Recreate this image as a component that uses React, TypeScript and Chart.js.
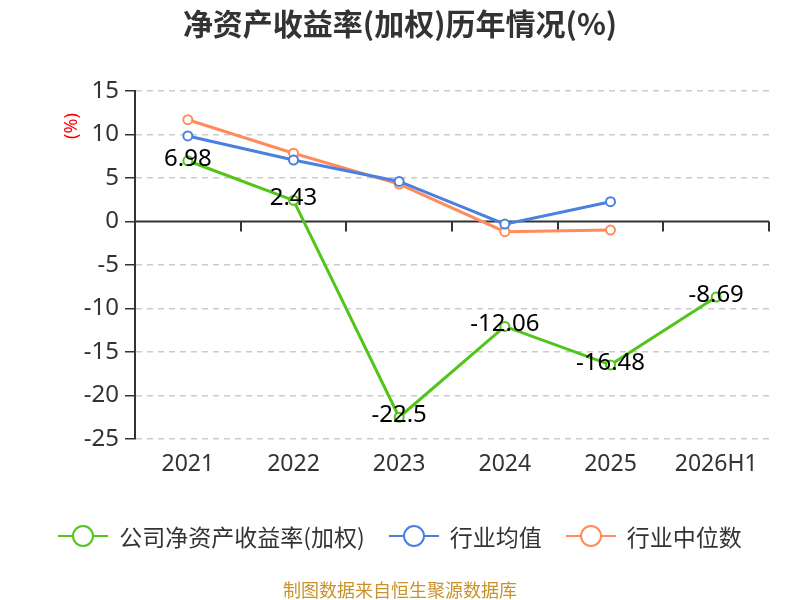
import React, { useEffect, useRef } from "react";
import Chart from "chart.js/auto";

const years = ["2021", "2022", "2023", "2024", "2025", "2026H1"];
const companyRoe = [6.98, 2.43, -22.5, -12.06, -16.48, -8.69];
const industryAvg = [9.83, 7.07, 4.6, -0.3, 2.28, null];
const industryMedian = [11.7, 7.85, 4.3, -1.17, -0.98, null];
const yTicks = [15, 10, 5, 0, -5, -10, -15, -20, -25];

const GREEN = "#52c41a";
const BLUE = "#4a80e0";
const ORANGE = "#ff8c5a";
const NUM_FONT = "'Noto Sans', 'DejaVu Sans', sans-serif";
const CJK_FONT = "'Noto Sans CJK SC', sans-serif";

// zero axis line with ticks, value labels and the red unit label
const overlayPlugin = {
	id: "overlay",
	beforeDatasetsDraw(chart: any) {
		const { ctx, chartArea } = chart;
		const y0 = chart.scales.y.getPixelForValue(0);
		const n = years.length;
		const step = (chartArea.right - chartArea.left) / n;
		ctx.save();
		ctx.strokeStyle = "#333";
		ctx.lineWidth = 2;
		ctx.beginPath();
		ctx.moveTo(chartArea.left, y0);
		ctx.lineTo(chartArea.right, y0);
		for (let i = 1; i <= n; i++) {
			const x = Math.round(chartArea.left + i * step);
			ctx.moveTo(x, y0);
			ctx.lineTo(x, y0 + 10);
		}
		ctx.stroke();
		ctx.restore();
	},
	afterDatasetsDraw(chart: any) {
		const { ctx, chartArea } = chart;
		const meta = chart.getDatasetMeta(0);
		ctx.save();
		ctx.font = `24px ${NUM_FONT}`;
		ctx.fillStyle = "#000";
		ctx.textAlign = "center";
		ctx.textBaseline = "middle";
		meta.data.forEach((pt: any, i: number) => {
			ctx.fillText(String(companyRoe[i]), pt.x, pt.y - 2);
		});
		ctx.translate(72, chartArea.top + 35);
		ctx.rotate(-Math.PI / 2);
		ctx.fillStyle = "#ff0000";
		ctx.font = `18px ${NUM_FONT}`;
		ctx.fillText("(%)", 0, 0);
		ctx.restore();
	},
};

const series = [
	{ label: "公司净资产收益率(加权)", data: companyRoe, color: GREEN },
	{ label: "行业均值", data: industryAvg, color: BLUE },
	{ label: "行业中位数", data: industryMedian, color: ORANGE },
];

const App: React.FC = () => {
	const chartRef = useRef<HTMLCanvasElement>(null);
	const chartInstance = useRef<Chart>();

	useEffect(() => {
		document.body.style.margin = "0";
		if (!chartRef.current) return;
		const ctx = chartRef.current.getContext("2d");
		if (!ctx) return;
		chartInstance.current = new Chart(ctx, {
			type: "line",
			data: {
				labels: years,
				datasets: series.map((s) => ({
					label: s.label,
					data: s.data,
					borderColor: s.color,
					backgroundColor: "#fff",
					borderWidth: 3,
					pointRadius: 4.5,
					pointBorderWidth: 2,
					pointBackgroundColor: "#fff",
					pointBorderColor: s.color,
					tension: 0,
					spanGaps: false,
				})),
			},
			options: {
				responsive: false,
				animation: false,
				layout: { padding: { top: 91, right: 31, bottom: 0, left: 0 } },
				scales: {
					x: {
						type: "category",
						offset: true,
						grid: { display: false, drawTicks: false },
						border: { display: false },
						ticks: {
							color: "#333",
							padding: 12,
							font: { size: 23, family: NUM_FONT },
						},
						afterFit: (scale: any) => {
							scale.height = 161;
						},
					},
					y: {
						min: -25,
						max: 15,
						afterBuildTicks: (scale: any) => {
							scale.ticks = yTicks.map((v) => ({ value: v }));
						},
						grid: {
							color: (c: any) => (c.tick && c.tick.value === 0 ? "rgba(0,0,0,0)" : "#ccc"),
							lineWidth: 1.5,
							tickLength: 10,
							tickColor: "#333",
							drawTicks: true,
						},
						border: { display: true, color: "#333", width: 2, dash: [6, 5] },
						ticks: {
							color: "#333",
							padding: 6,
							font: { size: 24, family: NUM_FONT },
						},
						afterFit: (scale: any) => {
							scale.width = 135;
						},
					},
				},
				plugins: {
					legend: { display: false },
					tooltip: { enabled: false },
				},
			},
			plugins: [overlayPlugin],
		});
		return () => {
			if (chartInstance.current) {
				chartInstance.current.destroy();
			}
		};
	}, []);

	return (
		<div style={{ position: "relative", width: 800, height: 600, background: "#fff" }}>
			<div
				style={{
					position: "absolute",
					top: 2,
					left: 0,
					width: 800,
					textAlign: "center",
					fontFamily: CJK_FONT,
					fontWeight: "bold",
					fontSize: 30,
					color: "#333",
					lineHeight: "40px",
				}}
			>
				净资产收益率(加权)历年情况(%)
			</div>
			<canvas ref={chartRef} width={800} height={600} style={{ display: "block" }} />
			<div
				style={{
					position: "absolute",
					top: 519,
					left: 0,
					width: 800,
					display: "flex",
					justifyContent: "center",
					alignItems: "center",
					fontFamily: CJK_FONT,
					fontSize: 23,
					color: "#333",
					lineHeight: "34px",
				}}
			>
				{series.map((s) => (
					<div key={s.label} style={{ display: "flex", alignItems: "center", margin: "0 12px" }}>
						<span style={{ position: "relative", width: 50, height: 24, marginRight: 11 }}>
							<span style={{ position: "absolute", left: 0, top: 11, width: 50, height: 2, background: s.color }} />
							<span
								style={{
									position: "absolute",
									left: 14,
									top: 1,
									width: 18,
									height: 18,
									border: `2px solid ${s.color}`,
									borderRadius: "50%",
									background: "#fff",
								}}
							/>
						</span>
						{s.label}
					</div>
				))}
			</div>
			<div
				style={{
					position: "absolute",
					top: 577,
					left: 0,
					width: 800,
					textAlign: "center",
					fontFamily: CJK_FONT,
					fontSize: 18,
					color: "#c9932a",
					lineHeight: "24px",
				}}
			>
				制图数据来自恒生聚源数据库
			</div>
		</div>
	);
};

export default App;
